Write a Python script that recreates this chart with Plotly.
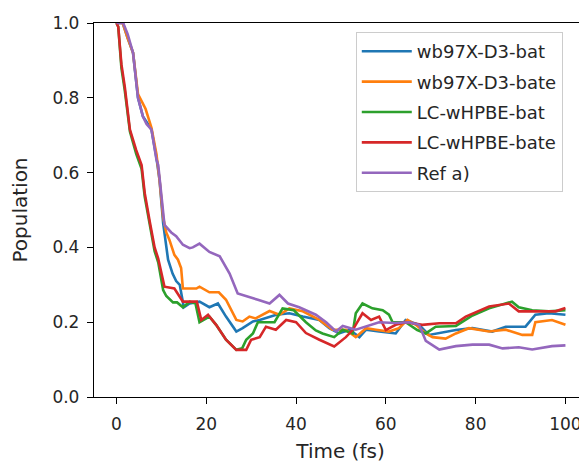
import plotly.graph_objects as go

# population decay curves
t_wb_bat = [0, 1.4, 2.5, 3.7, 4.8, 5.9, 7.0, 7.8, 8.9, 9.6, 10.4, 11.5, 12.5, 13.3, 14.1, 15.0,
            16.3, 18.5, 20.7, 22.6, 24.4, 26.7, 28.1, 30.4, 31.9, 35.6, 38.5, 41.5, 45.2, 47.4,
            49.6, 51.9, 54.1, 55.6, 58.5, 62.2, 64.4, 67.4, 69.6, 75.6, 79.3, 83.7, 86.7, 91.1,
            93.3, 96.3, 100]
p_wb_bat = [1.0, 1.0, 0.96, 0.92, 0.80, 0.75, 0.73, 0.715, 0.64, 0.58, 0.465, 0.367, 0.33, 0.31,
            0.30, 0.24, 0.25, 0.255, 0.24, 0.25, 0.215, 0.175, 0.184, 0.202, 0.206, 0.22, 0.224,
            0.215, 0.206, 0.184, 0.17, 0.18, 0.16, 0.18, 0.175, 0.17, 0.206, 0.193, 0.166, 0.179,
            0.184, 0.175, 0.188, 0.188, 0.22, 0.224, 0.22]

t_wb_bate = [0, 1.4, 2.5, 3.7, 4.8, 5.6, 6.5, 7.8, 8.9, 9.6, 10.4, 11.1, 11.8, 12.9, 13.7, 14.4,
             14.8, 17.8, 18.5, 20.7, 22.8, 24.4, 26.7, 28.1, 29.6, 31.0, 34.1, 36.3, 38.5, 41.5,
             45.2, 48.1, 51.1, 53.3, 55.6, 57.8, 60.7, 62.9, 64.8, 66.7, 68.9, 70.4, 73.3, 75.6,
             78.5, 83.0, 86.7, 90.4, 92.6, 93.3, 97.0, 100]
p_wb_bate = [1.0, 1.0, 0.96, 0.92, 0.81, 0.79, 0.77, 0.72, 0.65, 0.58, 0.48, 0.44, 0.42, 0.38,
             0.367, 0.345, 0.29, 0.29, 0.295, 0.28, 0.28, 0.26, 0.206, 0.202, 0.215, 0.21, 0.23,
             0.22, 0.237, 0.229, 0.206, 0.18, 0.18, 0.16, 0.184, 0.18, 0.175, 0.184, 0.206, 0.193,
             0.17, 0.16, 0.156, 0.17, 0.184, 0.175, 0.18, 0.166, 0.166, 0.2, 0.206, 0.193]

t_lc_bat = [0, 0.4, 1.1, 1.85, 3.0, 4.4, 5.6, 6.3, 8.5, 9.3, 10.4, 11.1, 12.6, 13.5, 14.8, 16.3,
            17.6, 18.5, 20.7, 22.2, 24.4, 26.7, 28.0, 28.9, 30.4, 31.5, 35.2, 37.0, 39.5, 42.2,
            44.4, 45.9, 48.5, 50.4, 52.6, 53.3, 54.8, 57.0, 59.3, 60.7, 61.5, 64.4, 67.0, 68.9,
            71.1, 75.6, 79.3, 83.0, 88.1, 89.6, 92.6, 96.3, 100]
p_lc_bat = [1.0, 0.99, 0.88, 0.82, 0.71, 0.65, 0.61, 0.535, 0.39, 0.36, 0.286, 0.27, 0.253,
            0.253, 0.24, 0.255, 0.25, 0.20, 0.215, 0.193, 0.153, 0.126, 0.13, 0.153, 0.17, 0.2,
            0.2, 0.237, 0.232, 0.2, 0.178, 0.17, 0.16, 0.18, 0.17, 0.224, 0.25, 0.237, 0.232,
            0.22, 0.2, 0.2, 0.179, 0.17, 0.188, 0.19, 0.218, 0.237, 0.255, 0.24, 0.232, 0.229,
            0.232]

t_lc_bate = [0, 0.4, 1.1, 1.85, 3.0, 4.4, 5.6, 6.3, 7.4, 8.5, 9.3, 10.7, 12.9, 14.1, 14.8, 17.9,
             18.9, 20.4, 22.2, 24.4, 26.7, 28.9, 30.0, 31.9, 33.3, 35.5, 37.8, 40.0, 42.2, 45.2,
             48.5, 51.1, 52.6, 54.8, 56.7, 58.5, 60.0, 62.2, 64.4, 68.1, 71.9, 75.6, 77.8, 83.0,
             87.4, 89.6, 94.1, 97.8, 100]
p_lc_bate = [1.0, 0.99, 0.89, 0.83, 0.715, 0.66, 0.62, 0.545, 0.47, 0.40, 0.37, 0.295, 0.29,
             0.27, 0.255, 0.255, 0.206, 0.22, 0.193, 0.153, 0.126, 0.126, 0.153, 0.16, 0.188,
             0.18, 0.206, 0.20, 0.171, 0.153, 0.135, 0.16, 0.179, 0.224, 0.206, 0.215, 0.179,
             0.193, 0.20, 0.193, 0.197, 0.197, 0.215, 0.242, 0.25, 0.229, 0.229, 0.229, 0.238]

t_ref = [0, 1.5, 2.5, 3.7, 4.8, 5.9, 6.7, 7.8, 8.9, 9.3, 10.7, 12.2, 13.3, 14.8, 16.3, 17.0,
         18.5, 20.7, 23.0, 25.2, 27.0, 29.6, 31.5, 34.1, 36.3, 38.2, 40.7, 44.4, 46.7, 48.9,
         50.4, 53.3, 57.0, 58.5, 62.0, 65.2, 67.4, 68.9, 71.9, 75.6, 79.3, 83.0, 86.0, 89.6,
         92.6, 97.0, 100]
p_ref = [1.0, 1.0, 0.97, 0.92, 0.80, 0.75, 0.73, 0.715, 0.635, 0.62, 0.46, 0.44, 0.43, 0.407,
         0.398, 0.40, 0.41, 0.388, 0.376, 0.33, 0.277, 0.268, 0.26, 0.25, 0.273, 0.25, 0.24,
         0.22, 0.2, 0.175, 0.19, 0.18, 0.193, 0.2, 0.198, 0.2, 0.193, 0.15, 0.127, 0.136, 0.14,
         0.14, 0.13, 0.133, 0.127, 0.136, 0.138]

series = [
    ("wb97X-D3-bat", t_wb_bat, p_wb_bat, "#1f77b4"),
    ("wb97X-D3-bate", t_wb_bate, p_wb_bate, "#ff7f0e"),
    ("LC-wHPBE-bat", t_lc_bat, p_lc_bat, "#2ca02c"),
    ("LC-wHPBE-bate", t_lc_bate, p_lc_bate, "#d62728"),
    ("Ref a)", t_ref, p_ref, "#9467bd"),
]

fig = go.Figure()
for name, t, p, color in series:
    fig.add_trace(go.Scatter(
        x=t, y=p, mode="lines", name=name, legendgroup=name,
        line=dict(color=color, width=2.6),
    ))

# the page body adds an 8px margin, so the figure is 8px smaller each way
font = "DejaVu Sans, Verdana, sans-serif"
fig.update_layout(
    width=579, height=455,
    margin=dict(l=86, r=0, t=15, b=66),
    paper_bgcolor="white", plot_bgcolor="white",
    font=dict(family=font, size=17, color="#262626"),
    showlegend=True,
    legend=dict(
        x=0.531, y=0.976, xanchor="left", yanchor="top",
        bgcolor="rgba(255,255,255,0.8)", bordercolor="#cccccc", borderwidth=1,
        font=dict(size=18), traceorder="grouped", tracegroupgap=4, itemwidth=50,
    ),
)
fig.update_xaxes(
    range=[-5, 104.8], tickvals=[0, 20, 40, 60, 80, 100], automargin=False,
    showgrid=False, zeroline=False,
    showline=True, linecolor="black", linewidth=1.3, mirror=True,
    ticks="outside", ticklen=6, tickwidth=1.3, tickcolor="black", ticklabelstandoff=5,
    title=dict(text="Time (fs)", font=dict(size=20), standoff=13),
)
fig.update_yaxes(
    range=[0, 1], tickvals=[0, 0.2, 0.4, 0.6, 0.8, 1.0], tickformat=".1f", automargin=False,
    showgrid=False, zeroline=False,
    showline=True, linecolor="black", linewidth=1.3, mirror=False,
    ticks="outside", ticklen=6, tickwidth=1.3, tickcolor="black", ticklabelstandoff=4,
    title=dict(text="Population", font=dict(size=20), standoff=20),
)

fig.write_html("out.html")
